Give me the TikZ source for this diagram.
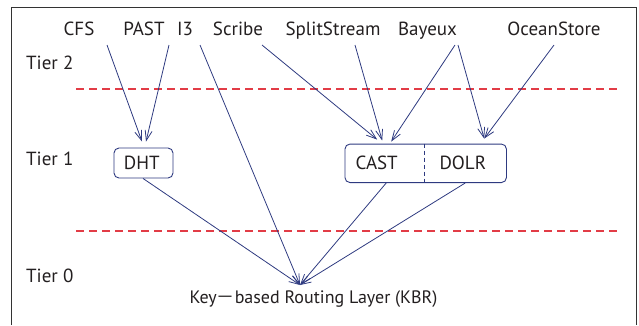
\documentclass[tikz,border=0pt]{standalone}
\usepackage{fontspec}
\setmainfont{PT Sans}
\newfontfamily\cjk{Noto Sans CJK JP}
\usetikzlibrary{arrows.meta}
\definecolor{navy}{RGB}{46,58,128}
\definecolor{dashred}{RGB}{226,60,70}
\definecolor{txt}{RGB}{35,31,32}
\tikzset{
  lbl/.style={anchor=base, inner sep=0pt, font=\fontsize{19}{22}\selectfont, text=txt},
  tier/.style={anchor=base west, inner sep=0pt, font=\fontsize{19}{22}\selectfont, text=txt},
  box/.style={draw=navy, line width=0.9pt, rounded corners=5pt, inner sep=0pt},
  arr/.style={color=navy, line width=0.8pt, -{Straight Barb[length=10pt,width=7pt]}},
  tierline/.style={color=dashred, line width=1.1pt, dash pattern=on 8pt off 5pt},
}
\begin{document}
\begin{tikzpicture}[x=1pt,y=-1pt]
\useasboundingbox (0,0) rectangle (639,325);
% frame
\draw[line width=0.9pt, color=black!80] (11,325) -- (11,7) -- (636.5,7) -- (636.5,325);
% top labels
\node[lbl] (cfs) at (79,35) {CFS};
\node[lbl] (past) at (144,35) {PAST};
\node[lbl] (i3) at (185,35) {I3};
\node[lbl] (scribe) at (238,35) {Scribe};
\node[lbl] (split) at (333,35) {SplitStream};
\node[lbl] (bayeux) at (427.5,35) {Bayeux};
\node[lbl] (ocean) at (554,35) {OceanStore};
% tiers
\node[tier] (t2) at (26,69) {Tier 2};
\node[tier] (t1) at (26,165) {Tier 1};
\node[tier] (t0) at (26,282) {Tier 0};
% dashed tier lines
\coordinate (l1a) at (76,89);
\coordinate (l1b) at (618,89);
\coordinate (l2a) at (76,231);
\coordinate (l2b) at (620,231);
\draw[tierline] (l1a) -- (l1b);
\draw[tierline] (l2a) -- (l2b);
% boxes
\node[box, minimum width=59pt, minimum height=30pt] (dht) at (143.5,163) {};
\node[lbl] at (141.7,169.5) {DHT};
\node[box, minimum width=161.5pt, minimum height=38.5pt] (cd) at (425.7,163.3) {};
\node[lbl] (cast) at (376.7,169.5) {CAST};
\node[lbl] (dolr) at (462.8,169.5) {DOLR};
\draw[color=navy, line width=0.8pt, dash pattern=on 4pt off 3pt] ([xshift=-1.5pt]cd.north) -- ([xshift=-1.5pt]cd.south);
% KBR
\node[anchor=base, inner sep=0pt, font=\fontsize{18}{22}\selectfont, text=txt] (kbr) at (313.5,303) {Key{\cjk －}based Routing Layer (KBR)};
\coordinate (kbrtip) at (300,285);
% arrows tier2 -> tier1
\draw[arr] ([shift={(28,10)}]cfs.base) -- ([shift={(-1.5,-6)}]dht.north);
\draw[arr] ([shift={(25,10)}]past.base) -- ([shift={(2.5,-6)}]dht.north);
\draw[arr] ([shift={(24,10)}]scribe.base) -- ([shift={(-48.5,-4)}]cd.north);
\draw[arr] ([shift={(22,10)}]split.base) -- ([shift={(-43.5,-3)}]cd.north);
\draw[arr] ([shift={(27.5,10)}]bayeux.base) -- ([shift={(-34.5,-2)}]cd.north);
\draw[arr] ([shift={(30.5,10)}]bayeux.base) -- ([shift={(58.5,-5)}]cd.north);
\draw[arr] ([shift={(0,10)}]ocean.base) -- ([shift={(58.5,-5)}]cd.north);
% arrows to KBR
\draw[arr] ([shift={(15,10)}]i3.base) -- (kbrtip);
\draw[arr] ([xshift=-0.5pt]dht.south) -- (kbrtip);
\draw[arr] ([xshift=-39.5pt]cd.south) -- (kbrtip);
\draw[arr] ([xshift=39.5pt]cd.south) -- (kbrtip);
\end{tikzpicture}
\end{document}
